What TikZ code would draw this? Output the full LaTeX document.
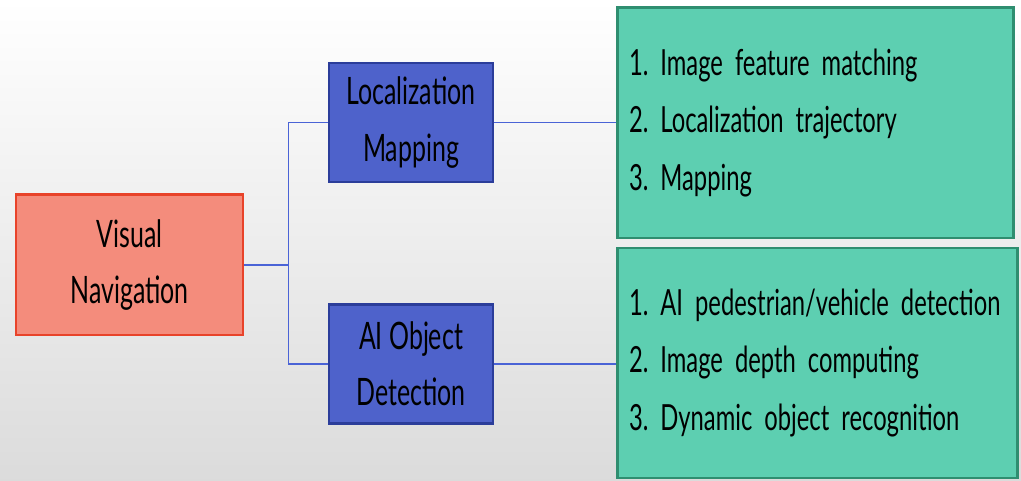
\documentclass[tikz,border=0pt]{standalone}
\usepackage{fontspec}
\setmainfont[FakeStretch=0.66]{Lato}
\usepackage{tikz}
\usetikzlibrary{positioning,calc}
\usepackage{xcolor}
\definecolor{navred}{RGB}{232,67,42}
\definecolor{navfill}{RGB}{244,140,124}
\definecolor{midblue}{RGB}{78,98,203}
\definecolor{midedge}{RGB}{43,61,154}
\definecolor{leafgreen}{RGB}{93,207,177}
\definecolor{leafedge}{RGB}{47,142,112}
\definecolor{linkblue}{RGB}{74,99,214}
\frenchspacing
\newcommand{\boxfont}{\fontsize{21.5}{32}\selectfont}
\newcommand{\leaffont}{\fontsize{20.5}{32.5}\selectfont\spaceskip 3pt plus 1pt\relax\hyphenpenalty 10000\relax}

\begin{document}
\begin{tikzpicture}[
    box/.style={rectangle, draw, align=center, font=\boxfont, text=black},
    leaf/.style={rectangle, draw=leafedge, line width=1.7pt, fill=leafgreen, minimum height=4.6cm, align=left, inner xsep=0.24cm, anchor=center, font=\leaffont},
    link/.style={draw=linkblue, line width=0.9pt}
]
\useasboundingbox (0,0) rectangle (20.42,9.62);
\shade[top color=white, bottom color=gray!28] (0,0) rectangle (20.42,9.62);

\node[box, draw=navred, line width=1.7pt, fill=navfill, minimum width=4.54cm, minimum height=2.8cm] (nav) at (2.59,4.32) {Visual\\Navigation};
\node[box, draw=midedge, line width=1.2pt, fill=midblue, minimum width=3.28cm, minimum height=2.38cm] (loc) at (8.22,7.17) {Localization\\Mapping};
\node[box, draw=midedge, line width=1.2pt, fill=midblue, minimum width=3.28cm, minimum height=2.38cm] (det) at (8.22,2.34) {AI Object\\Detection};

\node[leaf, text width=7.44cm] (locitems) at (16.30,7.16) {1. Image feature matching\\2. Localization trajectory\\3. Mapping};
\node[leaf, text width=7.52cm] (detitems) at (16.34,2.36) {\mbox{1. AI pedestrian/vehicle detection}\\2. Image depth computing\\3. Dynamic object recognition};

\coordinate (split) at ($(nav.east)+(0.88,0)$);
\draw[link] (nav.east) -- (split) |- (loc.west);
\draw[link] (split) |- (det.west);
\draw[link] (loc.east) -- (loc.east -| locitems.west);
\draw[link] (det.east) -- (det.east -| detitems.west);
\end{tikzpicture}
\end{document}
